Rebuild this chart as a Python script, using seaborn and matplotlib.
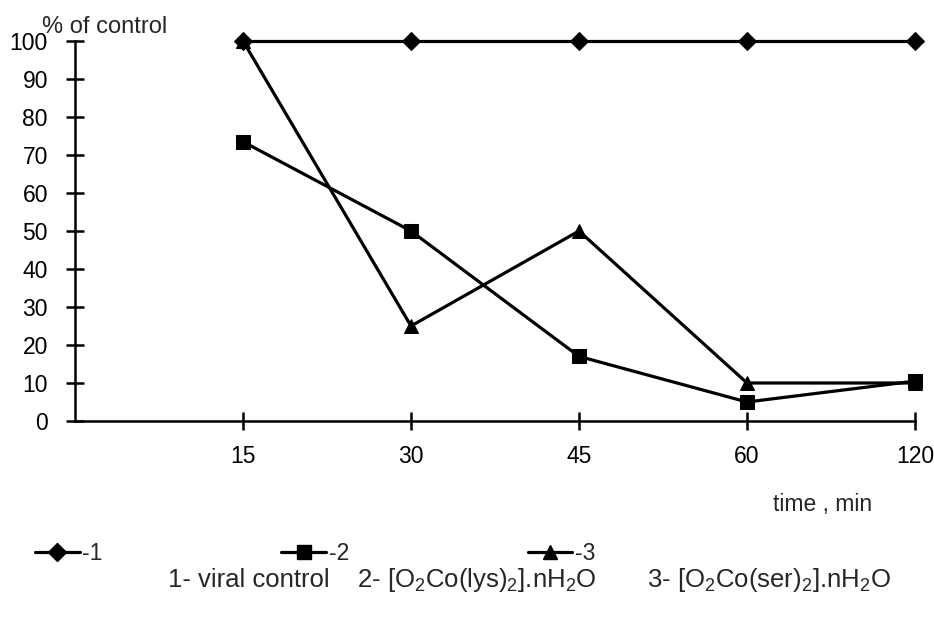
import matplotlib
matplotlib.use("Agg")
import matplotlib.pyplot as plt
import seaborn as sns
import pandas as pd
from matplotlib.lines import Line2D

# ---- data ----
time_labels = ["15", "30", "45", "60", "120"]
series_1 = [100, 100, 100, 100, 100]      # viral control
series_2 = [73.5, 50, 17, 5, 10.5]        # [O2Co(lys)2].nH2O
series_3 = [100, 25, 50, 10, 10]          # [O2Co(ser)2].nH2O
series_names = ["1", "2", "3"]
legend_labels = ["-1", "-2", "-3"]
caption_parts = ["1- viral control",
                 "2- [O$_2$Co(lys)$_2$].nH$_2$O",
                 "3- [O$_2$Co(ser)$_2$].nH$_2$O"]
y_ticks = [0, 10, 20, 30, 40, 50, 60, 70, 80, 90, 100]

positions = list(range(1, len(time_labels) + 1))
rows = []
for name, vals in zip(series_names, [series_1, series_2, series_3]):
    for p, v in zip(positions, vals):
        rows.append({"pos": p, "value": v, "series": name})
df = pd.DataFrame(rows)

sns.set_style("white")
plt.rcParams["font.family"] = ["Liberation Sans", "DejaVu Sans"]
plt.rcParams["mathtext.fontset"] = "custom"
plt.rcParams["mathtext.rm"] = "Liberation Sans"
plt.rcParams["mathtext.it"] = "Liberation Sans:italic"
plt.rcParams["mathtext.bf"] = "Liberation Sans:bold"

FS = 16.5
fig = plt.figure(figsize=(9.34, 6.17), dpi=100)
ax = fig.add_axes([75 / 934, 1 - 421 / 617, (915 - 75) / 934, (421 - 41) / 617])

markers = {"1": "D", "2": "s", "3": "^"}
sns.lineplot(data=df, x="pos", y="value", style="series", markers=markers,
             dashes=False, color="black", linewidth=2.3, markersize=9.5,
             markeredgecolor="black", legend=False, ax=ax, clip_on=False)

ax.set_xlim(0, len(time_labels))
ax.set_ylim(0, 100)
ax.set_xticks(positions)
ax.set_xticklabels(time_labels)
ax.set_yticks(y_ticks)
ax.set_xlabel("")
ax.set_ylabel("")
for s in ["top", "right"]:
    ax.spines[s].set_visible(False)
for s in ["left", "bottom"]:
    ax.spines[s].set_linewidth(1.8)
    ax.spines[s].set_color("black")
ax.tick_params(axis="both", direction="inout", length=13, width=1.8,
               colors="black", labelsize=FS, bottom=True, left=True)
ax.tick_params(axis="y", pad=13)
ax.tick_params(axis="x", pad=11)

fig.text(42 / 934, 1 - 33 / 617, "% of control", fontsize=17, va="baseline", ha="left")
fig.text(773 / 934, 1 - 504 / 617, "time , min", fontsize=FS, va="center", ha="left")

handles = [Line2D([], [], color="black", linewidth=2.3, marker=markers[n],
                  markersize=9.5) for n in series_names]
fig.legend(handles, legend_labels, ncol=3, loc="center left",
           bbox_to_anchor=(35 / 934, 1 - 554 / 617), frameon=False,
           fontsize=FS, handlelength=1.96, handletextpad=0.1,
           columnspacing=7.8, borderpad=0, borderaxespad=0)

for xpx, txt in zip([168, 357, 647], caption_parts):
    fig.text(xpx / 934, 1 - 580 / 617, txt, fontsize=18.5, va="center", ha="left")

fig.savefig("out.png", dpi=100)
